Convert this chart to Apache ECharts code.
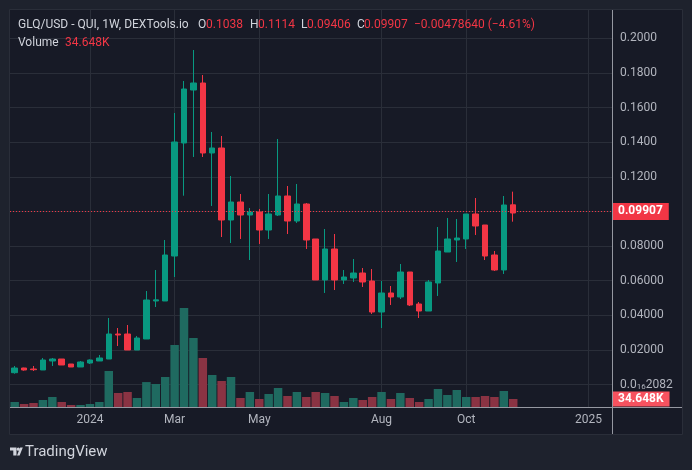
<!DOCTYPE html>
<html><head><meta charset="utf-8">
<script src="https://cdn.jsdelivr.net/npm/echarts@6/dist/echarts.min.js"></script>
<style>html,body{margin:0;padding:0;background:#1e222d;}#c{width:692px;height:470px;}</style>
</head><body><div id="c"></div>
<script>
// Weekly candles GLQ/USD, first week 2023-11-06 (54 candles + empty future weeks)
const categories = [];
(function(){ const d0 = Date.UTC(2023,10,6); for (let i=0;i<64;i++){ categories.push(new Date(d0+i*7*86400000).toISOString().slice(0,10)); } })();

const open = [0.00682,0.00953,0.00895,0.00838,0.01358,0.01473,0.01184,0.01011,0.01242,0.01358,
0.01473,0.02917,0.02917,0.01993,0.02629,0.04824,0.04824,0.07423,0.13952,0.17013,
0.17418,0.13374,0.13663,0.09503,0.10543,0.09792,0.09965,0.08925,0.09792,0.10890,
0.09445,0.10428,0.08406,0.06037,0.07828,0.06037,0.06153,0.06441,0.05979,0.04188,
0.05286,0.05055,0.06499,0.04651,0.04246,0.05864,0.07654,0.08348,0.08406,0.09850,
0.09214,0.07481,0.06615,0.1038];
const close = [0.00953,0.00838,0.00855,0.01415,0.01473,0.01127,0.01011,0.01300,0.01415,0.01531,
0.02917,0.02860,0.01993,0.02686,0.04881,0.04890,0.07481,0.14009,0.17071,0.17418,
0.13374,0.13663,0.09503,0.10543,0.09792,0.09965,0.08925,0.09850,0.10890,0.09445,
0.10428,0.08348,0.06037,0.07828,0.06037,0.06210,0.06441,0.05922,0.04188,0.05286,
0.05055,0.06499,0.04593,0.04246,0.05922,0.07712,0.08406,0.08463,0.09850,0.09157,
0.07423,0.06615,0.10370,0.09907];
const low = [0.00624,0.00797,0.00780,0.00838,0.01069,0.01127,0.01011,0.01011,0.01184,0.01358,
0.01473,0.02224,0.01993,0.01993,0.02629,0.04477,0.04824,0.06210,0.10907,0.13143,
0.13143,0.10312,0.08521,0.08174,0.08406,0.07192,0.08117,0.08406,0.09734,0.08694,
0.09330,0.07828,0.06037,0.05286,0.05459,0.05806,0.05922,0.05633,0.04073,0.03264,
0.04593,0.04939,0.04535,0.03842,0.04246,0.05113,0.07654,0.07077,0.07828,0.08637,
0.07192,0.06557,0.06384,0.09406];
const high = [0.01069,0.00970,0.01069,0.01531,0.01531,0.01473,0.01184,0.01358,0.01450,0.01704,
0.03842,0.03264,0.03437,0.02802,0.05401,0.06615,0.08348,0.15685,0.17533,0.19324,
0.17880,0.14587,0.14356,0.12045,0.11005,0.10196,0.10139,0.11005,0.14183,0.11468,
0.11583,0.10485,0.08406,0.08983,0.08694,0.06615,0.07250,0.06730,0.06672,0.05979,
0.05690,0.06961,0.06499,0.04766,0.06037,0.09099,0.09619,0.09561,0.09850,0.10774,
0.09214,0.07712,0.10890,0.1114];
// volume in thousands
const volume = [21.7,13,17.3,30.3,43.3,21.7,8.7,8.7,13,21.7,
156,60.6,65,39,108,99.6,130,268.5,428.8,298.8,
212.2,138.6,112.6,130,39,65,34.6,56.3,82.3,47.6,
65,43.3,65,60.6,47.6,21.7,39,30.3,43.3,65,
34.6,60.6,39,21.7,34.6,78,52,73.6,43.3,43.3,
47.6,43.3,69.3,34.648];

const xTickIdx = [8,17,26,39,48,61];
const xTickLabels = ['2024','Mar','May','Aug','Oct','2025'];
const yTickValues = [0,0.02,0.04,0.06,0.08,0.10,0.12,0.14,0.16,0.18,0.20];
const yTickLabels = ['{a|0.0}{s|16}{a|2082}','{a|0.02000}','{a|0.04000}','{a|0.06000}','{a|0.08000}','','{a|0.1200}','{a|0.1400}','{a|0.1600}','{a|0.1800}','{a|0.2000}'];

const FONT = "Roboto, 'Noto Sans', sans-serif";
const UP = '#089981', DOWN = '#f23645';
const VUP = '#1f6a60', VDOWN = '#8a3343';
const GRIDC = '#2a2e39', TXT = '#b2b5be', LEG = '#d1d4dc';

const chart = echarts.init(document.getElementById('c'), null, {renderer:'canvas'});
const lastIdx = close.length - 1;

function t(x, y, text, color) {
  return {type:'text', x:x, y:y, z:20, silent:true,
    style:{text:text, fill:color, font:'12px ' + FONT, textVerticalAlign:'middle', verticalAlign:'middle'}};
}

const option = {
  backgroundColor: '#1e222d',
  animation: false,
  textStyle: {fontFamily: FONT},
  grid: [
    {left:10, right:80, top:3.68, bottom:50.88},
    {left:10, right:80, top:10, bottom:63}
  ],
  xAxis: [
    {type:'category', gridIndex:0, data:categories, boundaryGap:true, show:false},
    {type:'category', gridIndex:1, data:categories, boundaryGap:true,
     axisLine:{show:false}, axisTick:{show:false}, splitLine:{show:false},
     axisLabel:{interval:(i)=>xTickIdx.indexOf(i)>=0,
       formatter:(v,i)=>{const k=xTickIdx.indexOf(i); return k>=0?xTickLabels[k]:'';},
       color:TXT, fontSize:12, margin:7, fontFamily:FONT}}
  ],
  yAxis: [
    {type:'value', gridIndex:0, position:'right', min:-0.02, max:0.22, interval:0.02,
     axisLine:{show:false}, axisTick:{show:false},
     splitLine:{show:true, showMinLine:false, showMaxLine:false, lineStyle:{color:GRIDC, width:1}},
     axisLabel:{margin:8, color:TXT, fontSize:12, fontFamily:FONT,
       formatter:(v)=>{const k=yTickValues.findIndex(tv=>Math.abs(tv-v)<1e-9); return k<0?'':yTickLabels[k];},
       rich:{a:{color:TXT, fontSize:12, fontFamily:FONT},
             s:{color:TXT, fontSize:8, fontFamily:FONT, padding:[5,0,0,0]}}}},
    {type:'value', gridIndex:1, min:0, max:1719.4, show:false}
  ],
  series: [
    {type:'line', xAxisIndex:1, yAxisIndex:1, data:[], silent:true,
     markLine:{z:0, silent:true, symbol:'none', label:{show:false},
       lineStyle:{color:GRIDC, type:'solid', width:1},
       data: xTickIdx.map(i=>({xAxis: categories[i]}))}},
    {type:'bar', xAxisIndex:1, yAxisIndex:1, z:1, barCategoryGap:'10%',
     data: volume.map((v,i)=>({value:v, itemStyle:{color: close[i]>=open[i]?VUP:VDOWN}})),
     markLine:{silent:true, symbol:'none', lineStyle:{color:'rgba(0,0,0,0)', width:1},
       data:[{yAxis: volume[lastIdx]}],
       label:{show:true, position:'end', distance:0, formatter:'34.648K', color:'#ffffff',
         backgroundColor:'#f7525f', fontSize:12, fontWeight:'bold', fontFamily:FONT,
         padding:[1,6,1,6], lineHeight:13}}},
    {type:'candlestick', xAxisIndex:0, yAxisIndex:0, z:3, barWidth:6,
     data: open.map((o,i)=>[o, close[i], low[i], high[i]]),
     itemStyle:{color:UP, color0:DOWN, borderColor:UP, borderColor0:DOWN, borderWidth:1},
     markLine:{silent:true, symbol:'none',
       data:[{yAxis: close[lastIdx]}],
       lineStyle:{color:DOWN, type:[1,2], width:1},
       label:{show:true, position:'end', distance:0, formatter:String(close[lastIdx]), color:'#ffffff',
         backgroundColor:DOWN, fontSize:12, fontWeight:'bold', fontFamily:FONT,
         padding:[2,6,1,6], lineHeight:14}}}
  ],
  graphic: [
    {type:'rect', z:-100, silent:true, shape:{x:9.5,y:9.5,width:673,height:425}, style:{fill:'#171a26', stroke:GRIDC, lineWidth:1}},
    {type:'line', z:10, silent:true, shape:{x1:612.5,y1:10,x2:612.5,y2:434}, style:{stroke:'#9598a1', lineWidth:1}},
    {type:'line', z:10, silent:true, shape:{x1:10,y1:407.5,x2:682,y2:407.5}, style:{stroke:'#9598a1', lineWidth:1}},
    t(18, 25, 'GLQ/USD - QUI, 1W, DEXTools.io', LEG),
    t(198, 25, 'O', LEG), t(206, 25, '0.1038', DOWN),
    t(250, 25, 'H', LEG), t(258, 25, '0.1114', DOWN),
    t(301, 25, 'L', LEG), t(307, 25, '0.09406', DOWN),
    t(357, 25, 'C', LEG), t(364, 25, '0.09907', DOWN),
    t(414, 25, '\u22120.00478640 (\u22124.61%)', DOWN),
    t(18, 42.5, 'Volume', LEG), t(65, 42.5, '34.648K', DOWN),
    {type:'polygon', z:20, silent:true, shape:{points:[[10,447.5],[16.5,447.5],[16.5,455.5],[13.3,455.5],[13.3,450.6],[10,450.6]]}, style:{fill:LEG}},
    {type:'circle', z:20, silent:true, shape:{cx:18.3, cy:449.2, r:1.6}, style:{fill:LEG}},
    {type:'polygon', z:20, silent:true, shape:{points:[[17,455.5],[20.2,447.5],[22.8,447.5],[19.6,455.5]]}, style:{fill:LEG}},
    {type:'text', z:20, x:25, y:452, silent:true, style:{text:'TradingView', fill:LEG, font:'15px ' + FONT, textVerticalAlign:'middle', verticalAlign:'middle'}}
  ]
};
chart.setOption(option);
</script>
</body></html>
